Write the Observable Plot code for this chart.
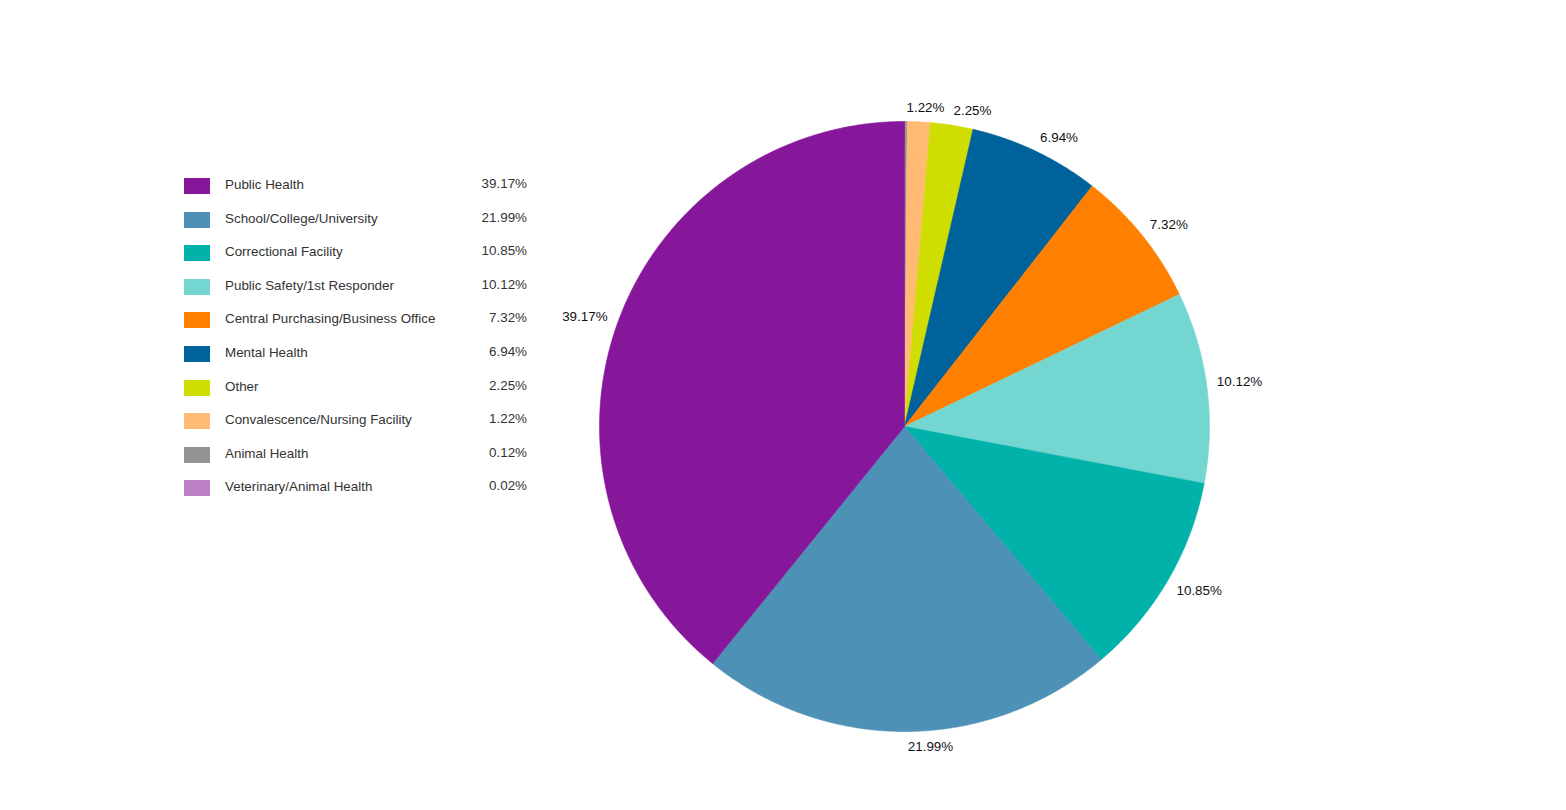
<!DOCTYPE html>
<html>
<head>
<meta charset="utf-8">
<script src="https://cdn.jsdelivr.net/npm/d3@7"></script>
<script src="https://cdn.jsdelivr.net/npm/@observablehq/plot@0.6"></script>
<style>
  html, body { margin: 0; padding: 0; background: #fff; overflow: hidden; }
  #wrap { position: relative; width: 1566px; height: 810px; font-family: Arial, "Liberation Sans", sans-serif; }
  #legend { position: absolute; left: 0; top: 0; }
  .row { position: absolute; left: 184px; width: 344px; height: 16px; }
  .sw { position: absolute; left: 0; top: 0; width: 26px; height: 16px; }
  .nm { position: absolute; left: 41px; top: -1px; font-size: 13.4px; line-height: 16px; color: #333; white-space: nowrap; }
  .pc { position: absolute; right: 1px; top: -2px; font-size: 13.4px; line-height: 16px; color: #333; white-space: nowrap; }
</style>
</head>
<body>
<div id="wrap"><div id="chart"></div><div id="legend"></div></div>
<script>
// ---- data ----
const categories = [
  "Public Health",
  "School/College/University",
  "Correctional Facility",
  "Public Safety/1st Responder",
  "Central Purchasing/Business Office",
  "Mental Health",
  "Other",
  "Convalescence/Nursing Facility",
  "Animal Health",
  "Veterinary/Animal Health"
];
const shares = [39.17, 21.99, 10.85, 10.12, 7.32, 6.94, 2.25, 1.22, 0.12, 0.02];
const colors = ["#87179A", "#4E91B6", "#00B2AA", "#74D6D1", "#FF8000", "#00629A", "#D0DD00", "#FFBA74", "#939393", "#BF7FC8"];

// ---- geometry (unit = pie radius) ----
const W = 1566, H = 810, CX = 904, CY = 426, R = 305;
const total = d3.sum(shares);
// slices are laid out clockwise from 12 o'clock in reverse legend order
const order = d3.range(categories.length).reverse();
let acc = 0;
const slices = order.map(i => {
  const a0 = acc / total * 2 * Math.PI;
  acc += shares[i];
  const a1 = acc / total * 2 * Math.PI;
  return {name: categories[i], value: shares[i], a0, a1};
});

const slicePts = [];
for (const s of slices) {
  slicePts.push({name: s.name, x: 0, y: 0});
  const n = Math.max(2, Math.ceil((s.a1 - s.a0) / (Math.PI / 720)));
  for (let k = 0; k <= n; k++) {
    const a = s.a0 + (s.a1 - s.a0) * k / n;
    slicePts.push({name: s.name, x: Math.sin(a), y: Math.cos(a)});
  }
  slicePts.push({name: s.name, x: 0, y: 0});
}

// outside labels: nearest corner of the label box sits on the mid-angle ray
const LR = 315 / R;
const labels = slices.filter(s => s.value >= 0.5).map(s => {
  const a = (s.a0 + s.a1) / 2;
  const text = s.value.toFixed(2) + "%";
  return {text, a, x: LR * Math.sin(a), y: LR * Math.cos(a), right: a < Math.PI, top: Math.cos(a) >= 0, w: text.length * 7.4 / R};
});
// simple collision avoidance on the right side (push earlier label left)
const rightL = labels.filter(d => d.right).sort((p, q) => p.a - q.a);
for (let i = rightL.length - 2; i >= 0; i--) {
  const p = rightL[i], q = rightL[i + 1];
  if (Math.abs(p.y - q.y) < 16 / R && p.x + p.w + 10 / R > q.x) p.x = q.x - 10 / R - p.w;
}

const lab = (filt, textAnchor, lineAnchor) =>
  Plot.text(labels.filter(filt), {x: "x", y: "y", text: "text", textAnchor, lineAnchor, fontSize: 13.4, fill: "#111"});

const plot = Plot.plot({
  width: W, height: H,
  margin: 0,
  x: {domain: [-CX / R, (W - CX) / R], range: [0, W], axis: null},
  y: {domain: [-(H - CY) / R, CY / R], range: [H, 0], axis: null},
  color: {domain: categories, range: colors},
  style: {fontFamily: "Arial, 'Liberation Sans', sans-serif", background: "transparent"},
  marks: [
    Plot.line(slicePts, {x: "x", y: "y", z: "name", fill: "name", stroke: "name", strokeWidth: 0.6, curve: "linear"}),
    lab(d => d.right && d.top, "start", "bottom"),
    lab(d => d.right && !d.top, "start", "top"),
    lab(d => !d.right && d.top, "end", "bottom"),
    lab(d => !d.right && !d.top, "end", "top")
  ]
});
document.getElementById("chart").appendChild(plot);

// legend
const legend = document.getElementById("legend");
categories.forEach((c, i) => {
  const row = document.createElement("div");
  row.className = "row";
  row.style.top = (178 + i * 33.6) + "px";
  row.innerHTML = `<div class="sw" style="background:${colors[i]}"></div><div class="nm">${c}</div><div class="pc">${shares[i].toFixed(2)}%</div>`;
  legend.appendChild(row);
});
</script>
</body>
</html>
